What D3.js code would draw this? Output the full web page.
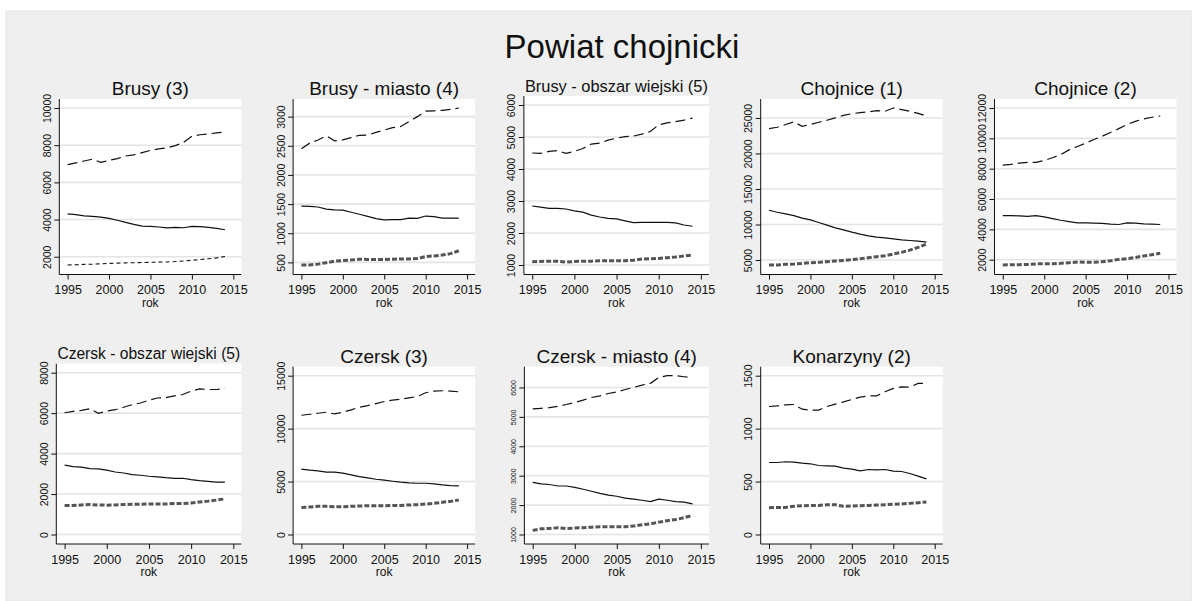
<!DOCTYPE html>
<html><head><meta charset="utf-8">
<script src="https://cdn.jsdelivr.net/npm/d3@7"></script>
<style>
body{margin:0;background:#fff;}
svg{display:block;font-family:"Liberation Sans",Arial,sans-serif;}
</style>
</head><body>
<svg id="c" width="1192" height="601"></svg>
<script>
const mainTitle = "Powiat chojnicki";
const xAxisLabel = "rok";
const years = [1995,1996,1997,1998,1999,2000,2001,2002,2003,2004,2005,2006,2007,2008,2009,2010,2011,2012,2013,2014];
const xTickValues = [1995,2000,2005,2010,2015];
const panelTitles = ["Brusy (3)","Brusy - miasto (4)","Brusy - obszar wiejski (5)","Chojnice (1)","Chojnice (2)",
  "Czersk - obszar wiejski (5)","Czersk (3)","Czersk - miasto (4)","Konarzyny (2)"];
const yTickValues = [
  [2000,4000,6000,8000,10000],
  [500,1000,1500,2000,2500,3000],
  [1000,2000,3000,4000,5000,6000],
  [5000,10000,15000,20000,25000],
  [2000,4000,6000,8000,10000,12000],
  [0,2000,4000,6000,8000],
  [0,5000,10000,15000],
  [1000,2000,3000,4000,5000,6000],
  [0,500,1000,1500]
];
// long-dash series (top)
const dashValues = [
  [6950,7050,7150,7250,7080,7180,7280,7420,7480,7600,7720,7800,7860,7980,8150,8480,8560,8610,8660,8710],
  [2450,2545,2600,2670,2585,2600,2640,2680,2685,2730,2770,2810,2830,2915,3000,3095,3100,3108,3125,3148],
  [4500,4490,4550,4575,4490,4550,4640,4780,4810,4900,4965,5010,5030,5090,5170,5380,5440,5480,5530,5590],
  [23505,23690,24070,24440,23830,24070,24400,24670,25000,25370,25600,25750,25840,26030,25930,26400,26170,25930,25650,25280],
  [8237,8280,8370,8410,8410,8540,8720,8940,9240,9460,9680,9920,10140,10380,10640,10910,11120,11280,11390,11470],
  [6021,6090,6140,6220,5990,6100,6170,6290,6420,6500,6640,6750,6770,6850,6920,7090,7200,7170,7170,7220],
  [11265,11360,11455,11550,11390,11550,11770,12025,12180,12370,12560,12690,12785,12910,13040,13390,13545,13580,13545,13480],
  [5270,5290,5315,5360,5420,5490,5570,5660,5715,5795,5850,5930,6000,6080,6140,6340,6400,6400,6365,6330],
  [1209,1215,1225,1228,1184,1175,1175,1209,1231,1253,1275,1297,1310,1310,1348,1380,1395,1392,1427,1427]
];
// solid series (middle)
const solidValues = [
  [4300,4260,4200,4170,4130,4060,3960,3850,3740,3650,3630,3600,3550,3580,3560,3630,3620,3580,3520,3450],
  [1466,1460,1450,1415,1400,1395,1360,1325,1290,1250,1230,1235,1235,1260,1255,1295,1285,1260,1260,1260],
  [2843,2810,2770,2770,2750,2690,2650,2560,2500,2460,2440,2380,2325,2335,2335,2335,2335,2315,2250,2210],
  [12010,11730,11500,11260,10890,10650,10280,9910,9530,9250,8930,8640,8410,8220,8130,7990,7850,7750,7660,7520],
  [4910,4910,4890,4850,4910,4820,4710,4600,4510,4430,4430,4410,4390,4340,4320,4430,4410,4360,4340,4320],
  [3427,3360,3330,3260,3240,3180,3090,3040,2960,2930,2880,2850,2810,2780,2780,2710,2660,2630,2590,2590],
  [6170,6077,6010,5890,5890,5790,5630,5475,5350,5220,5130,5030,4940,4875,4840,4840,4780,4685,4620,4590],
  [2770,2720,2700,2650,2650,2600,2540,2470,2400,2340,2300,2235,2200,2165,2120,2200,2165,2120,2100,2040],
  [680,680,687,684,674,668,652,649,646,627,617,601,614,611,614,598,595,576,551,525]
];
// dotted series (bottom)
const dotValues = [
  [1555,1570,1590,1600,1620,1640,1655,1670,1680,1690,1700,1710,1720,1740,1770,1810,1850,1890,1940,2010],
  [455,455,470,495,520,530,540,555,550,550,550,555,560,560,565,600,610,625,650,700],
  [1100,1110,1120,1120,1090,1110,1120,1120,1130,1130,1130,1130,1150,1185,1195,1205,1230,1250,1280,1310],
  [4300,4300,4390,4440,4530,4630,4670,4770,4860,4950,5050,5190,5330,5470,5610,5850,6080,6400,6780,7240],
  [1650,1670,1670,1690,1720,1740,1740,1760,1800,1850,1830,1830,1870,1930,2020,2070,2150,2240,2330,2420],
  [1430,1430,1460,1480,1460,1450,1460,1480,1500,1500,1510,1510,1510,1530,1530,1560,1610,1650,1700,1760],
  [2560,2595,2660,2660,2630,2630,2660,2690,2720,2720,2720,2750,2750,2790,2820,2880,2940,3040,3130,3260],
  [1140,1195,1205,1230,1205,1220,1230,1250,1265,1265,1265,1265,1285,1330,1365,1420,1470,1510,1570,1650],
  [253,256,256,266,272,275,275,281,281,266,269,272,275,278,281,285,288,294,300,307]
];

const svg = d3.select('#c');
svg.append('rect').attr('x',6).attr('y',11).attr('width',1186).attr('height',590)
  .attr('fill','#efefef').attr('stroke','#e4e4e4').attr('stroke-width',1);

svg.append('text').attr('x',622).attr('y',58).attr('text-anchor','middle')
  .attr('font-size',33).attr('fill','#111').text(mainTitle);

function textWidth(str, size){
  const t = svg.append('text').attr('font-size',size).text(str);
  const w = t.node().getComputedTextLength();
  t.remove();
  return w;
}

panelTitles.forEach((title, i) => {
  const col = i % 5, row = Math.floor(i / 5);
  let tfs = 19;
  const tw = textWidth(title, tfs);
  const shrunk = tw > 186;
  if (shrunk) tfs = tfs * 183 / tw;
  const smallY = (i === 7);
  const right = 241.3 + col * 233.8;
  const width = 182 + (shrunk ? 3 : 0) + (smallY ? 2.5 : 0);
  const left = right - width;
  const top = (row ? 366.7 : 99) - (shrunk ? 3 : 0);
  const bottom = row ? 544 : 274.5;

  const allVals = dashValues[i].concat(solidValues[i], dotValues[i], yTickValues[i]);
  const x = d3.scaleLinear().domain([1995, 2015]).range([left + 8.3, right - 8]);
  const y = d3.scaleLinear().domain(d3.extent(allVals)).range([bottom - 9.5, top + 9]);

  const g = svg.append('g');
  g.append('rect').attr('x', left).attr('y', top).attr('width', right - left).attr('height', bottom - top).attr('fill', '#fff');

  g.selectAll('line.grid').data(yTickValues[i]).join('line')
    .attr('x1', left).attr('x2', right)
    .attr('y1', d => y(d)).attr('y2', d => y(d))
    .attr('stroke', '#e4e4e4').attr('stroke-width', 1.6);

  g.append('text').attr('x', (left + right) / 2).attr('y', top - 10.5)
    .attr('text-anchor', 'middle').attr('dominant-baseline', 'central')
    .attr('font-size', tfs).attr('fill', '#111').text(title);

  const line = d3.line().x((d, k) => x(years[k])).y(d => y(d));

  g.append('path').datum(dotValues[i]).attr('d', line).attr('fill', 'none')
    .attr('stroke', i === 0 ? '#111' : '#555')
    .attr('stroke-width', i === 0 ? 1.1 : 3)
    .attr('stroke-dasharray', i === 0 ? '4,3' : '5,2');
  g.append('path').datum(solidValues[i]).attr('d', line).attr('fill', 'none')
    .attr('stroke', '#111').attr('stroke-width', 1.2);
  g.append('path').datum(dashValues[i]).attr('d', line).attr('fill', 'none')
    .attr('stroke', '#111').attr('stroke-width', 1.2).attr('stroke-dasharray', '10,5');

  const ya = g.append('g').attr('transform', `translate(${left},0)`)
    .call(d3.axisLeft(y).tickValues(yTickValues[i]).tickSize(5).tickSizeOuter(0).tickFormat(d3.format('d')));
  ya.select('.domain').remove();
  ya.selectAll('.tick line').attr('stroke', '#111');
  ya.selectAll('.tick text')
    .attr('x', null).attr('dy', null)
    .attr('text-anchor', 'middle')
    .attr('transform', 'translate(-8.5,0) rotate(-90)')
    .attr('font-size', smallY ? 7 : 10.5).attr('fill', '#111')
    .attr('font-family', '"Liberation Sans",Arial,sans-serif');
  g.append('line').attr('x1', left).attr('x2', left).attr('y1', top).attr('y2', bottom).attr('stroke', '#111');

  const xa = g.append('g').attr('transform', `translate(0,${bottom})`)
    .call(d3.axisBottom(x).tickValues(xTickValues).tickSize(5).tickSizeOuter(0).tickPadding(6).tickFormat(d3.format('d')));
  xa.select('.domain').remove();
  xa.selectAll('.tick line').attr('stroke', '#111');
  xa.selectAll('.tick text').attr('font-size', 12.5).attr('fill', '#111')
    .attr('font-family', '"Liberation Sans",Arial,sans-serif');
  g.append('line').attr('x1', left).attr('x2', right).attr('y1', bottom).attr('y2', bottom).attr('stroke', '#111');

  g.append('text').attr('x', (left + right) / 2).attr('y', bottom + 32)
    .attr('text-anchor', 'middle').attr('font-size', 12).attr('fill', '#111').text(xAxisLabel);
});
</script>
</body></html>
